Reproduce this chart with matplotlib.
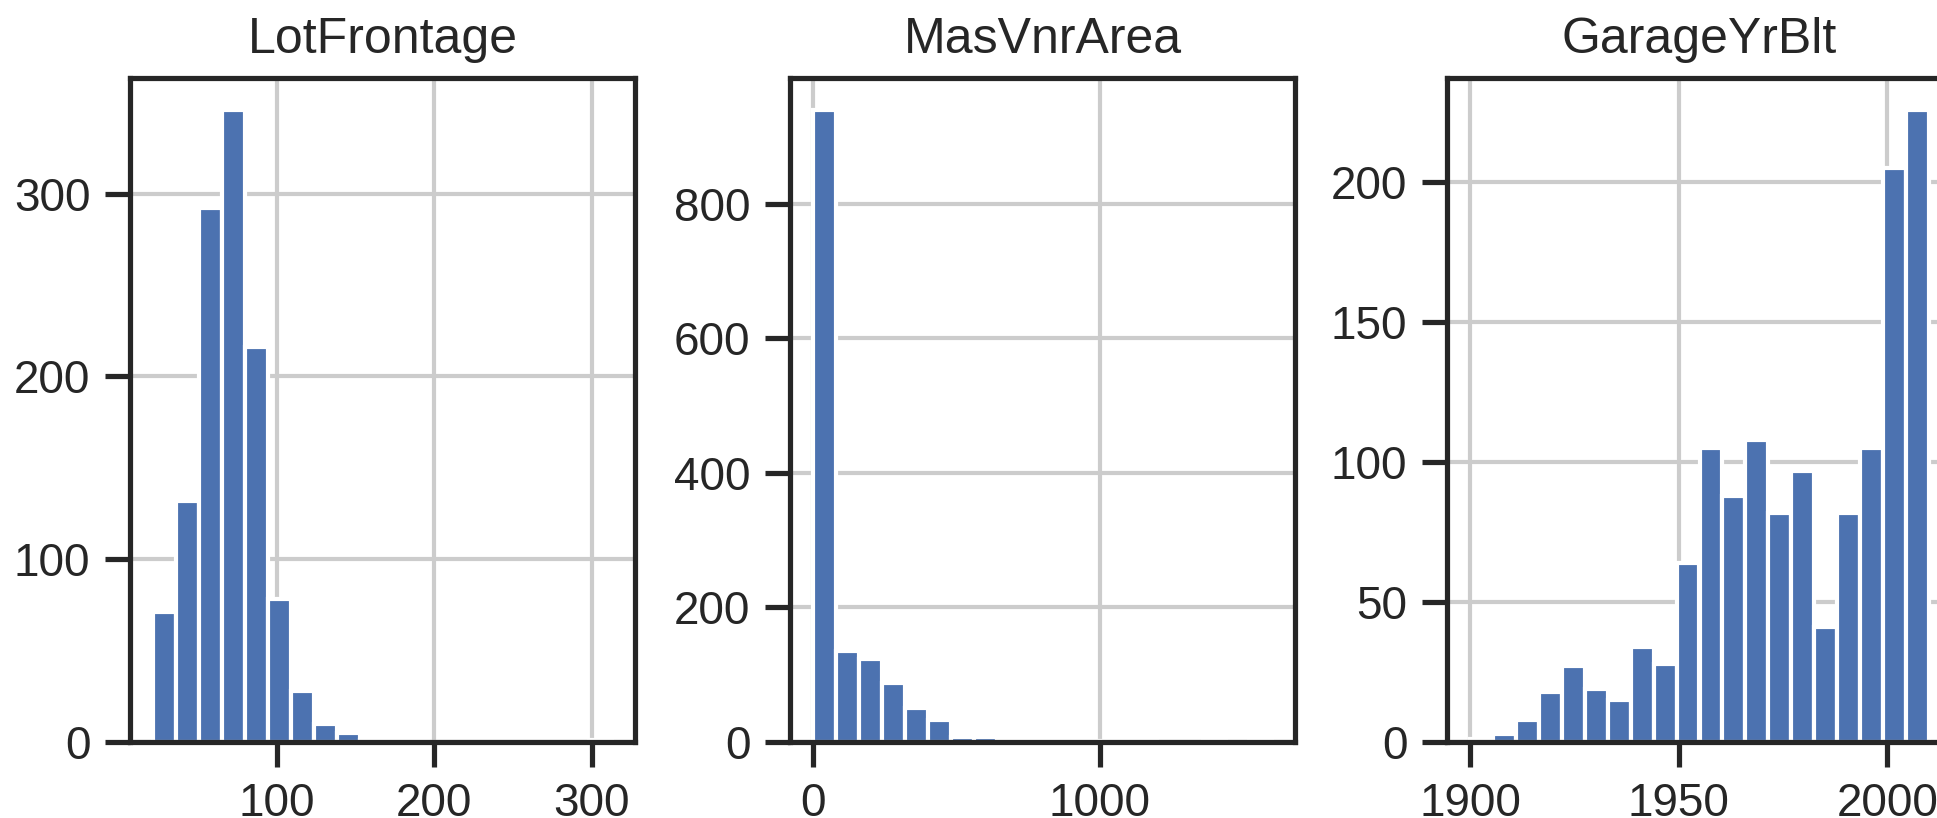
import numpy as np
import matplotlib
matplotlib.use("Agg")
import matplotlib.pyplot as plt

# ---- data ----
titles = ["LotFrontage", "MasVnrArea", "GarageYrBlt"]

lot_range = (21, 313)
lot_counts = [71, 132, 292, 346, 216, 78, 28, 10, 5, 1,
              1, 1, 0, 0, 0, 0, 0, 0, 0, 1]

mas_range = (0, 1600)
mas_counts = [940, 136, 124, 87, 50, 32, 8, 8, 2, 2,
              1, 1, 1, 1, 1, 0, 0, 1, 0, 1]

gar_range = (1900, 2010)
gar_counts = [1, 3, 8, 18, 27, 19, 15, 34, 28, 64,
              105, 88, 108, 82, 97, 41, 82, 105, 205, 226]

lot_xticks = [100, 200, 300]
lot_yticks = [0, 100, 200, 300]
mas_xticks = [0, 1000]
mas_yticks = [0, 200, 400, 600, 800]
gar_xticks = [1900, 1950, 2000]
gar_yticks = [0, 50, 100, 150, 200]

# ---- style (seaborn "ticks" + notebook context look) ----
plt.rcParams.update({
    "font.family": ["Liberation Sans", "DejaVu Sans"],
    "axes.edgecolor": ".15",
    "axes.linewidth": 1.25,
    "axes.axisbelow": True,
    "grid.color": ".8",
    "grid.linewidth": 1,
    "xtick.major.size": 6,
    "ytick.major.size": 6,
    "xtick.major.width": 1.25,
    "ytick.major.width": 1.25,
    "xtick.color": ".15",
    "ytick.color": ".15",
    "xtick.labelsize": 11,
    "ytick.labelsize": 11,
    "axes.titlesize": 12,
    "text.color": ".15",
    "patch.edgecolor": "w",
    "patch.linewidth": 1,
})

fig = plt.figure(figsize=(1937 / 300, 818 / 300), dpi=300)

W, H = 1937.0, 818.0
bottom = (H - 742) / H
height = (742 - 78) / H
width = 505 / W
lefts = [130 / W, 790 / W, 1447 / W]

series = [
    (lot_range, lot_counts, lot_xticks, lot_yticks),
    (mas_range, mas_counts, mas_xticks, mas_yticks),
    (gar_range, gar_counts, gar_xticks, gar_yticks),
]

for left, title, (rng, counts, xt, yt) in zip(lefts, titles, series):
    ax = fig.add_axes([left, bottom, width, height])
    edges = np.linspace(rng[0], rng[1], len(counts) + 1)
    ax.hist(edges[:-1], bins=edges, weights=counts, color="#4C72B0",
            edgecolor="white", linewidth=1)
    ax.grid(True)
    ax.set_xticks(xt)
    ax.set_yticks(yt)
    ax.set_title(title)
    for s in ax.spines.values():
        s.set_visible(True)

fig.savefig("out.png", dpi=300)
